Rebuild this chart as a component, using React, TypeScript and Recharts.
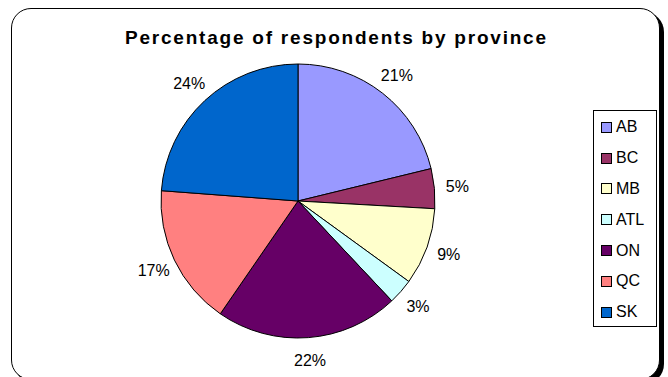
import React from 'react';
import { PieChart, Pie, Cell, Legend } from 'recharts';

// Shares per province (percent)
const provinces = ['AB', 'BC', 'MB', 'ATL', 'ON', 'QC', 'SK'];
const shares = [21.2, 4.7, 9.1, 3.0, 21.6, 16.6, 23.8];
const colors = ['#9999FF', '#993366', '#FFFFCC', '#CCFFFF', '#660066', '#FF8080', '#0066CC'];

const data = provinces.map((name, i) => ({ name, value: shares[i] }));

const FONT = '"Liberation Sans", Arial, sans-serif';
const RAD = Math.PI / 180;

const renderLabel = (props: any) => {
  const { cx, cy, midAngle, outerRadius, percent } = props;
  const r = outerRadius + 23;
  const x = cx + r * Math.cos(-midAngle * RAD);
  const y = cy + r * Math.sin(-midAngle * RAD);
  return (
    <text
      x={x}
      y={y}
      fill="#000"
      fontSize={16}
      fontFamily={FONT}
      textAnchor="middle"
      dominantBaseline="central"
    >
      {`${Math.round(percent * 100)}%`}
    </text>
  );
};

const LegendBox = () => (
  <div
    style={{
      width: 64,
      height: 217,
      border: '1px solid #000',
      background: '#fff',
      fontFamily: FONT,
      fontSize: 16,
      boxSizing: 'border-box',
      paddingTop: 1,
      overflow: 'hidden',
    }}
  >
    {provinces.map((p, i) => (
      <div key={p} style={{ display: 'flex', alignItems: 'center', height: 30.8, paddingLeft: 7 }}>
        <span
          style={{
            width: 9,
            height: 9,
            background: colors[i],
            border: '1px solid #000',
            marginRight: 4,
            flexShrink: 0,
          }}
        />
        <span>{p}</span>
      </div>
    ))}
  </div>
);

const App: React.FC = () => {
  return (
    <div style={{ position: 'absolute', left: 0, top: 0, width: 668, height: 377, background: '#fff', overflow: 'hidden' }}>
      {/* chart frame with drop shadow */}
      <div
        style={{
          position: 'absolute',
          left: 11,
          top: 8,
          width: 649,
          height: 372,
          border: '1.5px solid #000',
          borderRadius: 20,
          boxShadow: '4px 4px 0 #000',
          boxSizing: 'border-box',
          background: '#fff',
        }}
      />
      <svg width={668} height={60} style={{ position: 'absolute', left: 0, top: 0 }}>
        <text
          x={125}
          y={44}
          textLength={421}
          lengthAdjust="spacing"
          fontFamily={FONT}
          fontWeight="bold"
          fontSize={19}
          fill="#000"
        >
          Percentage of respondents by province
        </text>
      </svg>
      <div style={{ position: 'absolute', left: 0, top: 0 }}>
        <PieChart width={668} height={377} margin={{ top: 0, right: 0, bottom: 0, left: 0 }}>
          <Pie
            data={data}
            dataKey="value"
            nameKey="name"
            cx={298}
            cy={201}
            outerRadius={137}
            startAngle={90}
            endAngle={-270}
            stroke="#000"
            strokeWidth={1}
            label={renderLabel}
            labelLine={false}
            isAnimationActive={false}
          >
            {data.map((entry, index) => (
              <Cell key={`cell-${index}`} fill={colors[index]} />
            ))}
          </Pie>
          <Legend
            layout="vertical"
            wrapperStyle={{ position: 'absolute', left: 593, top: 110, width: 64, height: 217 }}
            content={() => <LegendBox />}
          />
        </PieChart>
      </div>
    </div>
  );
};

export default App;
